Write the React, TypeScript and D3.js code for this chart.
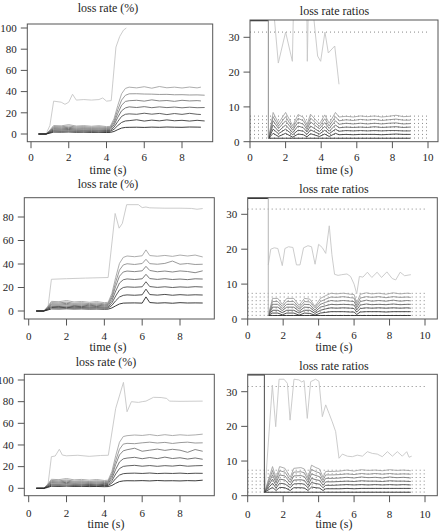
import React, { useEffect, useRef } from 'react';
import * as d3 from 'd3';

// ---------------- data ----------------
// left panels: loss rate (%) of 7 flows + a top (lightest) flow
const tL1 = [0.4, 0.8, 1.0, 1.2, 1.6, 2.0, 2.4, 2.8, 3.2, 3.6, 4.0, 4.2, 4.4, 4.6, 4.8, 5.0, 5.2, 5.6, 6.0, 6.4, 6.8, 7.2, 7.6, 8.0, 8.4, 8.8, 9.2];
const L1End = [9.0, 9.2, 9.0, 9.2, 9.0, 9.2, 9.0];
const L1 = [
  [0, 0, 0.8, 1.8, 1.7, 1.9, 1.6, 1.7, 1.5, 1.6, 1.4, 1.5, 2.4, 4.1, 5.6, 6.2, 6.3, 6.4, 6.2, 6.5, 6.3, 6.6, 6.4, 6.3, 6.6, 6.5, 6.4],
  [0, 0, 1.3, 2.9, 2.7, 3.0, 2.6, 2.8, 2.5, 2.7, 2.4, 2.5, 4.5, 8.0, 10.9, 12.3, 12.6, 13.4, 12.2, 13.1, 12.4, 13.3, 12.5, 12.9, 12.2, 12.9, 12.3],
  [0, 0, 1.8, 3.9, 3.8, 4.2, 3.6, 3.8, 3.5, 3.7, 3.3, 3.4, 6.5, 11.8, 16.6, 18.6, 19.0, 18.6, 19.6, 18.7, 19.4, 18.3, 19.3, 18.5, 19.5, 18.6, 18.4],
  [0, 0, 2.3, 5.0, 4.8, 5.3, 4.6, 4.9, 4.5, 4.8, 4.3, 4.4, 8.6, 15.8, 21.9, 24.6, 25.6, 25.0, 25.8, 24.8, 25.6, 24.9, 25.4, 24.7, 25.3, 24.8, 25.0],
  [0, 0, 2.8, 6.0, 5.8, 6.3, 5.6, 5.9, 5.4, 5.8, 5.2, 5.4, 10.5, 19.4, 27.2, 30.7, 31.4, 31.8, 31.0, 32.2, 31.2, 31.6, 30.8, 31.8, 31.2, 31.5, 31.2],
  [0, 0, 3.2, 7.0, 6.8, 7.5, 6.6, 6.9, 6.3, 6.8, 6.1, 6.3, 12.5, 23.0, 32.0, 36.5, 37.9, 38.0, 37.7, 37.6, 37.3, 37.4, 37.0, 37.1, 36.8, 36.9, 36.6],
  [0, 0, 3.7, 8.0, 7.7, 8.8, 7.5, 7.9, 7.3, 7.8, 7.0, 7.2, 14.5, 27.0, 38.0, 43.0, 44.2, 43.5, 44.6, 43.2, 44.8, 43.6, 44.2, 43.4, 44.3, 43.5, 44.2],
];
const L1TopT = [0.4, 0.8, 1.0, 1.2, 1.6, 1.8, 2.0, 2.2, 2.4, 2.8, 3.2, 3.6, 3.8, 4.0, 4.25, 4.5, 4.7, 4.9, 5.05];
const L1TopV = [0, 0, 8, 31, 30, 28, 30, 37.5, 32, 32.5, 32, 32.5, 34, 31, 31.5, 82, 92, 98, 100];

const tL2 = [0.4, 0.8, 1.0, 1.2, 1.6, 2.0, 2.4, 2.8, 3.2, 3.6, 4.0, 4.2, 4.4, 4.6, 4.8, 5.0, 5.2, 5.6, 6.0, 6.2, 6.4, 6.8, 7.2, 7.6, 8.0, 8.4, 8.8, 9.2];
const L2 = [
  [0, 0, 0.8, 1.8, 1.7, 1.9, 1.7, 1.8, 1.6, 1.7, 1.5, 1.6, 2.6, 4.4, 6.0, 6.7, 6.8, 6.9, 6.7, 12.0, 7.2, 6.7, 7.0, 6.6, 7.1, 6.8, 6.9, 6.8],
  [0, 0, 1.3, 3.0, 2.8, 3.1, 2.7, 2.9, 2.6, 2.8, 2.5, 2.6, 4.8, 8.7, 11.9, 13.3, 13.7, 13.4, 13.8, 18.6, 14.0, 13.5, 14.1, 13.4, 13.9, 13.5, 13.8, 13.6],
  [0, 0, 1.8, 4.0, 3.8, 4.2, 3.7, 3.9, 3.5, 3.8, 3.4, 3.5, 6.9, 12.8, 17.9, 20.0, 20.5, 20.2, 20.6, 24.9, 20.8, 20.1, 20.6, 20.0, 20.5, 20.2, 20.7, 20.4],
  [0, 0, 2.3, 5.1, 4.9, 5.4, 4.7, 5.0, 4.5, 4.9, 4.4, 4.5, 9.0, 17.0, 23.8, 26.6, 27.3, 26.8, 27.4, 31.2, 27.6, 26.9, 27.5, 26.8, 27.2, 26.7, 27.4, 27.2],
  [0, 0, 2.8, 6.1, 5.9, 6.5, 5.7, 6.0, 5.4, 5.9, 5.3, 5.5, 11.2, 21.0, 29.6, 33.2, 34.0, 33.5, 34.2, 38.0, 34.5, 33.4, 34.0, 33.2, 34.1, 33.6, 32.6, 34.2],
  [0, 0, 3.2, 7.1, 6.9, 7.6, 6.6, 7.0, 6.3, 6.9, 6.1, 6.4, 13.0, 24.5, 34.8, 39.2, 40.2, 39.6, 40.4, 44.0, 40.3, 39.8, 40.5, 42.5, 39.8, 40.4, 39.6, 39.8],
  [0, 0, 3.7, 8.2, 7.9, 8.9, 7.7, 8.1, 7.4, 8.0, 7.1, 7.4, 15.0, 28.5, 40.5, 45.6, 46.8, 46.2, 47.0, 52.0, 47.2, 46.6, 47.3, 46.5, 47.6, 46.8, 47.6, 46.0],
];
const L2TopT = [0.4, 1.0, 1.2, 2.0, 3.0, 4.2, 4.57, 4.78, 4.95, 5.18, 5.8, 6.0, 6.2, 6.4, 7.2, 8.0, 8.6, 8.9, 9.2];
const L2TopV = [0, 0.5, 27, 27.5, 28, 28.5, 83, 70.5, 74.5, 90.5, 90.5, 88, 88.5, 87.8, 87.5, 87.5, 87.3, 86.6, 87.2];

const tL3 = [0.4, 0.8, 1.0, 1.2, 1.6, 2.0, 2.4, 2.8, 3.2, 3.6, 4.0, 4.2, 4.4, 4.6, 4.8, 5.0, 5.2, 5.6, 6.0, 6.4, 6.8, 7.2, 7.6, 8.0, 8.4, 8.8, 9.2];
const L3 = [
  [0, 0, 0.8, 1.9, 1.7, 2.0, 1.7, 1.8, 1.6, 1.7, 1.5, 1.6, 2.6, 4.6, 6.2, 6.8, 7.0, 6.9, 7.1, 6.8, 7.2, 6.9, 7.0, 6.8, 7.1, 6.9, 7.5],
  [0, 0, 1.3, 3.0, 2.8, 3.1, 2.7, 2.9, 2.6, 2.8, 2.5, 2.6, 4.9, 9.0, 12.2, 13.5, 13.8, 14.0, 13.7, 14.1, 13.6, 13.9, 13.7, 14.0, 13.6, 13.9, 13.8],
  [0, 0, 1.8, 4.0, 3.8, 4.3, 3.7, 3.9, 3.5, 3.8, 3.4, 3.5, 7.0, 13.2, 18.2, 20.2, 20.7, 21.2, 20.4, 21.0, 20.3, 20.9, 20.5, 21.2, 20.4, 20.8, 21.0],
  [0, 0, 2.3, 5.2, 4.9, 5.5, 4.7, 5.0, 4.5, 4.9, 4.4, 4.5, 9.2, 17.5, 24.3, 27.2, 27.9, 28.6, 27.3, 28.4, 27.4, 28.8, 27.5, 28.2, 27.0, 28.0, 26.8],
  [0, 0, 2.8, 6.2, 5.9, 6.6, 5.7, 6.0, 5.4, 5.9, 5.3, 5.5, 11.4, 22.0, 30.8, 34.6, 35.6, 37.0, 34.2, 35.2, 36.2, 35.0, 36.0, 35.2, 33.2, 35.8, 34.2],
  [0, 0, 3.2, 7.2, 6.9, 7.7, 6.6, 7.0, 6.3, 6.9, 6.2, 6.4, 13.4, 25.5, 36.0, 40.8, 41.5, 41.2, 42.0, 42.6, 41.8, 42.4, 41.4, 42.2, 42.6, 41.8, 42.0],
  [0, 0, 3.7, 8.3, 8.0, 9.0, 7.8, 8.2, 7.5, 8.1, 7.2, 7.5, 15.6, 30.0, 42.5, 47.8, 48.6, 49.2, 48.8, 49.6, 48.6, 49.5, 48.7, 49.4, 48.9, 49.3, 50.0],
];
const L3TopT = [0.4, 1.0, 1.2, 1.4, 1.62, 1.78, 2.0, 2.6, 3.2, 3.8, 4.21, 4.6, 5.01, 5.2, 5.43, 5.8, 6.0, 6.2, 6.6, 7.0, 7.3, 7.44, 8.0, 9.2];
const L3TopV = [0, 0.5, 29.2, 29.8, 36, 30.7, 30, 30.5, 29.5, 30.3, 30.5, 73.8, 97.8, 70.7, 80, 79.3, 80, 80.5, 84, 83.8, 83, 80.5, 80.3, 80.5];

// right panels: loss rate ratios
const ratioRefs = [1.05, 2.1, 3.15, 4.2, 5.25, 6.3, 7.35, 31.5];
const onsets = [1.03, 1.16, 0.94];
const onsetColors = ['#8c8c8c', '#b4b4b4', '#4a4a4a'];

const tR1 = [1.05, 1.3, 1.6, 2.0, 2.4, 2.7, 3.0, 3.2, 3.4, 3.9, 4.2, 4.45, 4.8, 5.0, 5.4, 5.8, 6.2, 6.6, 7.0, 7.4, 7.8, 8.2, 8.6, 9.0];
const R1 = [
  [1, 1, 1, 1, 1, 1, 1, 1, 1, 1, 1, 1, 1, 1, 1, 1, 1, 1, 1, 1, 1, 1, 1, 1],
  [1, 2.4, 1.5, 2.4, 1.3, 2.2, 2.0, 1.4, 2.3, 1.5, 2.2, 1.5, 2.4, 2.0, 2.1, 2.0, 2.1, 2.1, 2.1, 2.0, 2.1, 2.2, 2.1, 2.1],
  [1, 3.6, 2.3, 3.6, 2.0, 3.3, 3.0, 2.1, 3.4, 2.2, 3.3, 2.3, 3.6, 3.0, 3.2, 3.1, 3.2, 3.1, 3.2, 3.1, 3.2, 3.2, 3.1, 3.1],
  [1, 4.8, 3.0, 4.8, 2.6, 4.5, 4.0, 2.8, 4.5, 2.9, 4.4, 3.0, 4.8, 4.0, 4.2, 4.1, 4.2, 4.1, 4.3, 4.1, 4.2, 4.3, 4.1, 4.2],
  [1, 6.0, 3.8, 6.0, 3.3, 5.6, 5.0, 3.5, 5.7, 3.7, 5.5, 3.8, 6.0, 5.0, 5.3, 5.1, 5.3, 5.1, 5.3, 5.1, 5.3, 5.4, 5.1, 5.2],
  [1, 7.2, 4.5, 7.2, 3.9, 6.7, 6.0, 4.2, 6.8, 4.4, 6.6, 4.5, 7.2, 6.0, 6.3, 6.1, 6.4, 6.2, 6.4, 6.1, 6.3, 6.5, 6.2, 6.2],
  [1, 8.4, 5.3, 8.4, 4.6, 7.8, 7.0, 4.9, 7.9, 5.1, 7.7, 5.3, 8.4, 7.1, 7.3, 7.1, 7.4, 7.2, 7.4, 7.1, 7.3, 7.6, 7.2, 7.3],
];
const R1TopT = [1.05, 1.16, 1.35, 1.59, 2.0, 2.38, 2.47, 3.18, 3.22, 3.3, 3.6, 3.8, 3.97, 4.21, 4.4, 4.76, 5.0];
const R1TopV = [60, 36, 36.5, 22.6, 31.5, 23.1, 45, 45, 23.1, 45, 34.7, 24.6, 23.1, 31.5, 25.5, 27.5, 16.5];

const tR2 = [1.16, 1.4, 1.7, 1.95, 2.2, 2.6, 2.9, 3.2, 3.5, 3.8, 4.1, 4.4, 4.7, 5.0, 5.4, 5.8, 6.0, 6.15, 6.35, 6.7, 7.0, 7.4, 7.8, 8.2, 8.6, 9.0, 9.2];
const R2 = [
  [1, 1, 1, 1, 1, 1, 1, 1, 1, 1, 1, 1, 1, 1, 1, 1, 1, 1, 1, 1, 1, 1, 1, 1, 1, 1, 1],
  [1, 1.7, 1.7, 1.2, 1.7, 1.7, 1.1, 1.7, 1.6, 1.1, 1.7, 1.9, 2.1, 2.1, 2.1, 2.0, 2.0, 1.3, 2.0, 2.1, 2.1, 2.1, 2.0, 2.1, 2.1, 2.1, 2.1],
  [1, 2.5, 2.5, 1.8, 2.5, 2.5, 1.7, 2.5, 2.5, 1.6, 2.5, 2.9, 3.2, 3.1, 3.2, 3.1, 3.0, 2.0, 3.0, 3.2, 3.1, 3.2, 3.1, 3.2, 3.1, 3.2, 3.1],
  [1, 3.4, 3.4, 2.4, 3.4, 3.4, 2.2, 3.4, 3.3, 2.1, 3.4, 3.8, 4.2, 4.1, 4.2, 4.1, 4.0, 2.6, 4.0, 4.3, 4.1, 4.2, 4.1, 4.3, 4.1, 4.2, 4.2],
  [1, 4.2, 4.2, 3.0, 4.2, 4.2, 2.8, 4.2, 4.1, 2.6, 4.2, 4.8, 5.3, 5.1, 5.3, 5.1, 5.0, 3.3, 5.0, 5.4, 5.1, 5.3, 5.1, 5.4, 5.1, 5.3, 5.2],
  [1, 5.0, 5.0, 3.6, 5.0, 5.0, 3.3, 5.0, 4.9, 3.2, 5.0, 5.7, 6.3, 6.2, 6.4, 6.1, 6.0, 3.9, 6.0, 6.4, 6.2, 6.4, 6.1, 6.4, 6.2, 6.3, 6.2],
  [1, 5.9, 5.9, 4.2, 5.9, 5.9, 3.9, 5.9, 5.7, 3.6, 5.9, 6.7, 7.4, 7.2, 7.4, 7.1, 7.0, 4.6, 7.1, 7.5, 7.2, 7.4, 7.1, 7.5, 7.2, 7.4, 7.3],
];
const R2TopT = [1.16, 1.3, 1.5, 1.7, 1.95, 2.1, 2.3, 2.55, 2.75, 2.95, 3.15, 3.4, 3.6, 3.8, 4.0, 4.2, 4.4, 4.6, 4.75, 4.9, 5.1, 5.3, 5.6, 5.8, 6.0, 6.15, 6.3, 6.5, 6.75, 7.0, 7.3, 7.55, 7.85, 8.15, 8.35, 8.6, 8.85, 9.2];
const R2TopV = [15.5, 20, 20.4, 20.2, 15.3, 20.2, 20.7, 20.5, 15.5, 15.5, 20.4, 21, 20.7, 15.7, 21.4, 20.5, 18.8, 26.7, 18.4, 12.8, 12.5, 12.7, 12.9, 12.2, 10, 7.2, 12.2, 12, 13.4, 11.9, 13.4, 11.9, 13.5, 11.6, 11.2, 13.4, 12.4, 12.7];

const tR3 = [0.95, 1.4, 1.6, 1.8, 2.1, 2.4, 2.6, 3.0, 3.2, 3.4, 3.6, 3.85, 4.05, 4.25, 4.4, 4.8, 5.2, 5.6, 6.0, 6.4, 6.8, 7.2, 7.6, 8.0, 8.4, 8.8, 9.2];
const R3 = [
  [1, 1, 1, 1, 1, 1, 1, 1, 1, 1, 1, 1, 1, 1, 1, 1, 1, 1, 1, 1, 1, 1, 1, 1, 1, 1, 1],
  [1, 2.4, 1.5, 2.4, 2.3, 1.5, 2.3, 2.3, 2.2, 1.5, 2.5, 2.3, 2.2, 1.5, 2.0, 2.0, 2.0, 2.1, 2.0, 2.1, 2.1, 2.1, 2.1, 2.1, 2.1, 2.1, 2.1],
  [1, 3.6, 2.2, 3.6, 3.4, 2.3, 3.4, 3.5, 3.3, 2.3, 3.8, 3.5, 3.3, 2.3, 3.0, 3.0, 3.1, 3.2, 3.1, 3.2, 3.1, 3.2, 3.1, 3.2, 3.1, 3.2, 3.1],
  [1, 4.8, 2.9, 4.8, 4.5, 3.0, 4.5, 4.6, 4.4, 3.0, 5.0, 4.6, 4.4, 3.0, 4.0, 4.0, 4.1, 4.2, 4.1, 4.3, 4.2, 4.2, 4.1, 4.3, 4.2, 4.2, 4.1],
  [1, 6.0, 3.7, 6.0, 5.7, 3.8, 5.7, 5.8, 5.5, 3.8, 6.3, 5.8, 5.5, 3.8, 5.0, 5.0, 5.1, 5.3, 5.1, 5.4, 5.2, 5.3, 5.1, 5.4, 5.2, 5.3, 5.1],
  [1, 7.2, 4.4, 7.2, 6.8, 4.5, 6.8, 6.9, 6.6, 4.5, 7.6, 6.9, 6.6, 4.5, 6.0, 6.0, 6.1, 6.3, 6.1, 6.4, 6.2, 6.4, 6.2, 6.4, 6.2, 6.3, 6.2],
  [1, 8.4, 5.1, 8.4, 7.9, 5.3, 7.9, 8.1, 7.7, 5.3, 8.8, 8.1, 7.7, 5.3, 7.0, 7.0, 7.1, 7.4, 7.1, 7.5, 7.3, 7.4, 7.2, 7.5, 7.3, 7.4, 7.2],
];
const R3TopT = [0.97, 1.39, 1.58, 1.77, 2.05, 2.24, 2.39, 2.61, 2.89, 3.05, 3.18, 3.36, 3.55, 3.83, 4.02, 4.21, 4.4, 4.59, 4.77, 4.96, 5.15, 5.34, 5.62, 5.9, 6.18, 6.47, 6.75, 7.03, 7.31, 7.59, 7.88, 8.16, 8.44, 8.72, 8.97, 9.1, 9.25];
const R3TopV = [1, 31.9, 19.9, 33.6, 33.6, 32.4, 21.8, 33.6, 33.4, 32.8, 33.2, 22.3, 32.9, 33.6, 33, 22.8, 26.2, 23.7, 21.3, 18.5, 10.8, 12, 11.4, 11.25, 11.7, 11.4, 12.7, 12.2, 12, 11.25, 12.7, 11.4, 12.7, 11.4, 12.7, 11.1, 11.4];

// flow shades, darkest (flow 1) to lightest (top flow)
const shades = ['#262626', '#3b3b3b', '#505050', '#656565', '#7a7a7a', '#8f8f8f', '#a4a4a4', '#c6c6c6'];

const xTicksL = [0, 2, 4, 6, 8];
const xTicksR = [0, 2, 4, 6, 8, 10];
const yTicksL1 = [0, 20, 40, 60, 80, 100];
const yTicksL2 = [0, 20, 40, 60, 80];
const yTicksR = [0, 10, 20, 30];

// ---------------- layout ----------------
interface Series { t: number[]; v: number[]; color: string; }
interface Panel {
  title: string;
  box: [number, number, number, number]; // x0, y0, x1, y1
  xVal: [number, number]; xPx: [number, number];
  yVal: [number, number]; yPx: [number, number];
  xTicks: number[]; yTicks: number[];
  titleX: number; titleY: number; tickY: number; labelY: number;
  series: Series[];
  ratio?: number; // index into onsets
}

const buildLeft = (t: number[], rows: number[][], topT: number[], topV: number[], ends?: number[]): Series[] => {
  const s: Series[] = [{ t: topT, v: topV, color: shades[7] }];
  for (let k = rows.length - 1; k >= 0; k--) {
    const tt = ends ? [...t.slice(0, -1), ends[k]] : t;
    s.push({ t: tt, v: rows[k], color: shades[k] });
  }
  return s;
};

const panels: Panel[] = [
  {
    title: 'loss rate (%)', box: [27.3, 24, 212.7, 141.7],
    xVal: [0, 8], xPx: [31, 182], yVal: [0, 100], yPx: [134, 28],
    xTicks: xTicksL, yTicks: yTicksL1, titleX: 108, titleY: 11.5, tickY: 160.5, labelY: 173.5,
    series: buildLeft(tL1, L1, L1TopT, L1TopV, L1End),
  },
  {
    title: 'loss rate ratios', box: [250, 20, 438, 141.7],
    xVal: [0, 10], xPx: [250, 428], yVal: [0, 30], yPx: [141.7, 37.3],
    xTicks: xTicksR, yTicks: yTicksR, titleX: 334.5, titleY: 15, tickY: 160.5, labelY: 173.5,
    series: buildLeft(tR1, R1, R1TopT, R1TopV), ratio: 0,
  },
  {
    title: 'loss rate (%)', box: [24.3, 197.7, 214.3, 319],
    xVal: [0, 8], xPx: [28.7, 180], yVal: [0, 80], yPx: [311, 217],
    xTicks: xTicksL, yTicks: yTicksL2, titleX: 108, titleY: 188, tickY: 340, labelY: 351,
    series: buildLeft(tL2, L2, L2TopT, L2TopV),
  },
  {
    title: 'loss rate ratios', box: [247.7, 197.7, 437.3, 319],
    xVal: [0, 10], xPx: [247.7, 425], yVal: [0, 30], yPx: [319, 214.3],
    xTicks: xTicksR, yTicks: yTicksR, titleX: 334, titleY: 193, tickY: 339, labelY: 351,
    series: buildLeft(tR2, R2, R2TopT, R2TopV), ratio: 1,
  },
  {
    title: 'loss rate (%)', box: [24.3, 374.3, 214.3, 495.7],
    xVal: [0, 8], xPx: [28.7, 180], yVal: [0, 100], yPx: [488.3, 380],
    xTicks: xTicksL, yTicks: yTicksL1, titleX: 106, titleY: 366, tickY: 516.5, labelY: 528,
    series: buildLeft(tL3, L3, L3TopT, L3TopV),
  },
  {
    title: 'loss rate ratios', box: [247.7, 374.3, 437.3, 495.7],
    xVal: [0, 10], xPx: [247.7, 425], yVal: [0, 30], yPx: [495.7, 391.7],
    xTicks: xTicksR, yTicks: yTicksR, titleX: 334, titleY: 370, tickY: 518, labelY: 528,
    series: buildLeft(tR3, R3, R3TopT, R3TopV), ratio: 2,
  },
];

const FONT = '"Liberation Serif", "DejaVu Serif", serif';
const INK = '#1e1e1e';
const AXIS = '#555';

function drawPanel(svg: d3.Selection<SVGSVGElement, unknown, null, undefined>, p: Panel, idx: number) {
  const x = d3.scaleLinear().domain(p.xVal).range(p.xPx);
  const y = d3.scaleLinear().domain(p.yVal).range(p.yPx);
  const [bx0, by0, bx1, by1] = p.box;
  const g = svg.append('g');

  const clipId = `plotclip${idx}`;
  g.append('clipPath').attr('id', clipId)
    .append('rect').attr('x', bx0).attr('y', by0).attr('width', bx1 - bx0).attr('height', by1 - by0);
  const plot = g.append('g').attr('clip-path', `url(#${clipId})`);

  const line = d3.line<[number, number]>().x(d => x(d[0])).y(d => y(d[1]));

  if (p.ratio !== undefined) {
    // reference levels
    ratioRefs.forEach(r => {
      plot.append('line')
        .attr('x1', x(0)).attr('x2', x(10))
        .attr('y1', y(r)).attr('y2', y(r))
        .attr('stroke', '#6a6a6a').attr('stroke-width', 0.8)
        .attr('stroke-dasharray', '1,3');
    });
  }

  p.series.forEach(s => {
    const pts = s.t.map((t, i) => [t, s.v[i]] as [number, number]);
    plot.append('path')
      .attr('d', line(pts))
      .attr('fill', 'none')
      .attr('stroke', s.color)
      .attr('stroke-width', 0.9)
      .attr('stroke-linejoin', 'round');
  });

  if (p.ratio !== undefined) {
    const t0 = onsets[p.ratio];
    const top = y.invert(by0);
    // ratios undefined before the first loss: clipped at the top
    plot.append('line')
      .attr('x1', x(0)).attr('x2', x(t0))
      .attr('y1', y(top)).attr('y2', y(top))
      .attr('stroke', '#333').attr('stroke-width', 2.4);
    plot.append('line')
      .attr('x1', x(t0)).attr('x2', x(t0))
      .attr('y1', y(top)).attr('y2', y(0.95))
      .attr('stroke', onsetColors[p.ratio]).attr('stroke-width', 1);
  }

  // box
  g.append('rect')
    .attr('x', bx0).attr('y', by0).attr('width', bx1 - bx0).attr('height', by1 - by0)
    .attr('fill', 'none').attr('stroke', AXIS).attr('stroke-width', 1);

  // x axis
  p.xTicks.forEach(t => {
    g.append('line')
      .attr('x1', x(t)).attr('x2', x(t)).attr('y1', by1).attr('y2', by1 + 6.5)
      .attr('stroke', AXIS).attr('stroke-width', 1);
    g.append('text')
      .attr('x', x(t)).attr('y', p.tickY)
      .attr('text-anchor', 'middle')
      .attr('font-family', FONT).attr('font-size', 11).attr('fill', INK)
      .text(t);
  });

  // y axis
  p.yTicks.forEach(v => {
    g.append('line')
      .attr('x1', bx0 - 6.5).attr('x2', bx0).attr('y1', y(v)).attr('y2', y(v))
      .attr('stroke', AXIS).attr('stroke-width', 1);
    g.append('text')
      .attr('x', bx0 - 10.5).attr('y', y(v) + 3.8)
      .attr('text-anchor', 'end')
      .attr('font-family', FONT).attr('font-size', 11).attr('fill', INK)
      .text(v);
  });

  g.append('text')
    .attr('x', p.titleX).attr('y', p.titleY)
    .attr('text-anchor', 'middle')
    .attr('font-family', FONT).attr('font-size', 12).attr('fill', INK)
    .text(p.title);

  g.append('text')
    .attr('x', p.titleX).attr('y', p.labelY)
    .attr('text-anchor', 'middle')
    .attr('font-family', FONT).attr('font-size', 12).attr('fill', INK)
    .text('time (s)');
}

const App: React.FC = () => {
  const svgRef = useRef<SVGSVGElement>(null);

  useEffect(() => {
    if (!svgRef.current) return;
    document.body.style.margin = '0';
    const svg = d3.select(svgRef.current);
    svg.selectAll('*').remove();
    panels.forEach((p, i) => drawPanel(svg, p, i));
  }, []);

  return (
    <svg ref={svgRef} width={439} height={532} style={{ display: 'block', background: '#fff' }} />
  );
};

export default App;
